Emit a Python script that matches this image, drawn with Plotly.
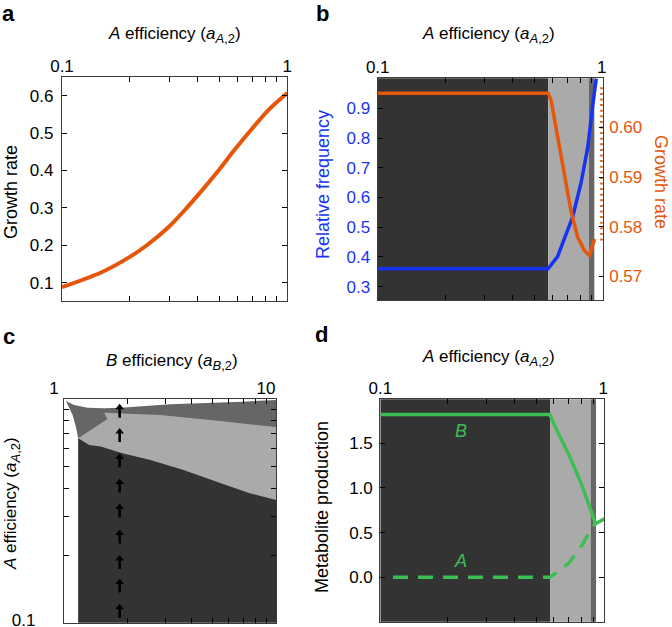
import numpy as np
import plotly.graph_objects as go

W, H = 672, 627
FONT = "Liberation Sans, Arial, sans-serif"

# ---------------- data ----------------
# panel a : growth rate vs A efficiency
a_eff = [0.1, 0.15, 0.2, 0.238, 0.3, 0.358, 0.42, 0.495, 0.58, 0.672, 0.82, 1.0]
a_growth = [0.088, 0.128, 0.169, 0.2, 0.251, 0.3, 0.348, 0.4, 0.453, 0.5, 0.56, 0.607]

# panel b : relative frequency (left axis) and growth rate (right axis)
b_freq_x = [0.1, 0.576, 0.635, 0.679, 0.742, 0.808, 0.867, 0.910, 0.945]
b_freq_y = [0.36, 0.36, 0.401, 0.457, 0.535, 0.648, 0.771, 0.905, 1.0]
b_gr_x = [0.1, 0.576, 0.594, 0.635, 0.679, 0.728, 0.780, 0.836, 0.880, 0.93]
b_gr_y = [0.6069, 0.6069, 0.6055, 0.5981, 0.5907, 0.5833, 0.5779, 0.5752, 0.5742, 0.5775]
b_gr_edge_x = [1.0, 1.0]
b_gr_edge_y = [0.5772, 0.6085]

# regimes along A efficiency (panels b and d)
regime_edges = [0.1, 0.577, 0.877, 0.929, 1.01]

# panel c : regime map (B efficiency vs A efficiency)
c_left_edge = 1.167
c_dark_top_x = [1.167, 1.314, 1.49, 1.884, 2.556, 3.661, 5.248, 7.515, 10]
c_dark_top_y = [0.669, 0.624, 0.614, 0.573, 0.535, 0.483, 0.428, 0.380, 0.354]
c_light_top_x = [1.167, 1.602, 1.545, 2.85, 5.44, 10]
c_light_top_y = [0.669, 0.816, 0.87, 0.85, 0.80, 0.751]
c_mid_left_x = [1.167, 1.138, 1.098, 1.022]
c_mid_left_y = [0.669, 0.754, 0.851, 0.983]
c_mid_top_x = [1.022, 1.117, 1.291, 1.545, 1.849, 2.377, 3.171, 6.97, 10]
c_mid_top_y = [0.983, 0.943, 0.917, 0.911, 0.917, 0.933, 0.950, 0.976, 0.993]
c_arrow_x = 1.83
c_arrow_heads = [0.95, 0.74, 0.57, 0.44, 0.34, 0.26, 0.20, 0.157, 0.121]

# panel d : metabolite production
d_B_x = [0.1, 0.576, 0.611, 0.701, 0.805, 0.861, 0.923, 1.01]
d_B_y = [1.822, 1.822, 1.673, 1.373, 1.018, 0.813, 0.600, 0.655]
d_A_x = [0.114, 0.576, 0.611, 0.701, 0.805, 0.861, 0.923]
d_A_y = [0.0, 0.0, 0.047, 0.159, 0.364, 0.496, 0.608]

# tick labels
a_ticks = [0.1, 0.2, 0.3, 0.4, 0.5, 0.6, 0.7, 0.8, 0.9, 1.0]
a_ticktext = ["0.1", "", "", "", "", "", "", "", "", "1"]
b_ticks = [1, 2, 3, 4, 5, 6, 7, 8, 9, 10]
b_ticktext = ["1", "", "", "", "", "", "", "", "", "10"]
growth_ticks = [0.1, 0.2, 0.3, 0.4, 0.5, 0.6]
freq_ticks = [0.3, 0.4, 0.5, 0.6, 0.7, 0.8, 0.9]
gr_ticks = [0.57, 0.58, 0.59, 0.60]
gr_ticktext = ["0.57", "0.58", "0.59", "0.60"]
met_ticks = [0.0, 0.5, 1.0, 1.5]
met_ticktext = ["0.0", "0.5", "1.0", "1.5"]

# ---------------- style ----------------
ORANGE = "#E5560B"
BLUE = "#1733F2"
GREEN = "#3DBE55"
DARK = "#333333"
LIGHT = "#AAAAAA"
MID = "#666666"
REGIME_COLORS = [DARK, LIGHT, MID, "white"]
AXC = "#3c3c3c"
TICK_SIZE = 17
C_PX_PER_DECADE = 223.4  # panel c vertical scale, used for arrow geometry


def px_x(x):
    return x / W


def px_y(y):
    return 1 - y / H


def axis(**kw):
    base = dict(showgrid=False, zeroline=False, showline=True, linecolor=AXC, linewidth=1.2,
                ticks="inside", ticklen=5, tickwidth=1, tickcolor="black", automargin=False,
                ticklabeloverflow="allow",
                tickfont=dict(family=FONT, size=TICK_SIZE, color="black"), mirror="ticks")
    base.update(kw)
    return base


fig = go.Figure()

# regime shading in panels b and d (filled rectangles through the axes)
for xa, ya, ylo, yhi in (("x2", "y2", 0.0, 2.0), ("x4", "y5", -2.0, 4.0)):
    for i in range(len(regime_edges) - 1):
        x0, x1 = regime_edges[i], regime_edges[i + 1]
        fig.add_trace(go.Scatter(x=[x0, x1, x1, x0, x0], y=[ylo, ylo, yhi, yhi, ylo],
                                 fill="toself", fillcolor=REGIME_COLORS[i], mode="lines",
                                 line=dict(width=0, color=REGIME_COLORS[i]),
                                 xaxis=xa, yaxis=ya, showlegend=False, hoverinfo="skip"))

# panel a
fig.add_trace(go.Scatter(x=a_eff, y=a_growth, mode="lines",
                         line=dict(color=ORANGE, width=4, shape="spline", smoothing=0.8),
                         xaxis="x", yaxis="y", showlegend=False))

# panel b
fig.add_trace(go.Scatter(x=b_freq_x, y=b_freq_y, mode="lines", line=dict(color=BLUE, width=3.5),
                         xaxis="x2", yaxis="y2", showlegend=False))
fig.add_trace(go.Scatter(x=b_gr_x, y=b_gr_y, mode="lines", line=dict(color=ORANGE, width=3.5),
                         xaxis="x2", yaxis="y3", showlegend=False))
fig.add_trace(go.Scatter(x=b_gr_edge_x, y=b_gr_edge_y, mode="lines",
                         line=dict(color=ORANGE, width=3, dash="2px,3.6px"),
                         xaxis="x2", yaxis="y3", showlegend=False))

# panel c polygons (mid, then light, then dark on top)
mid_x = c_mid_top_x + [10, c_left_edge] + c_mid_left_x
mid_y = c_mid_top_y + [0.1, 0.1] + c_mid_left_y
fig.add_trace(go.Scatter(x=mid_x, y=mid_y, fill="toself", fillcolor=MID, mode="lines",
                         line=dict(width=0, color=MID), xaxis="x3", yaxis="y4", showlegend=False))
light_x = c_light_top_x + [10, c_left_edge]
light_y = c_light_top_y + [0.1, 0.1]
fig.add_trace(go.Scatter(x=light_x, y=light_y, fill="toself", fillcolor=LIGHT, mode="lines",
                         line=dict(width=0, color=LIGHT), xaxis="x3", yaxis="y4", showlegend=False))
dark_x = c_dark_top_x + [10, c_left_edge]
dark_y = c_dark_top_y + [0.1, 0.1]
fig.add_trace(go.Scatter(x=dark_x, y=dark_y, fill="toself", fillcolor=DARK, mode="lines",
                         line=dict(width=0, color=DARK), xaxis="x3", yaxis="y4", showlegend=False))

# panel c arrows: shafts + heads
shaft_x, shaft_y, head_x, head_y = [], [], [], []
for yh in c_arrow_heads:
    tail = yh * 10 ** (-13.5 / C_PX_PER_DECADE)
    top = yh * 10 ** (-4 / C_PX_PER_DECADE)
    shaft_x += [c_arrow_x, c_arrow_x, None]
    shaft_y += [tail, top, None]
    head_x.append(c_arrow_x)
    head_y.append(yh * 10 ** (-3.2 / C_PX_PER_DECADE))
fig.add_trace(go.Scatter(x=shaft_x, y=shaft_y, mode="lines", line=dict(color="black", width=2.6),
                         xaxis="x3", yaxis="y4", showlegend=False, connectgaps=False))
fig.add_trace(go.Scatter(x=head_x, y=head_y, mode="markers",
                         marker=dict(symbol="triangle-up", size=7.5, color="black", line=dict(width=0)),
                         xaxis="x3", yaxis="y4", showlegend=False))

# panel d
fig.add_trace(go.Scatter(x=d_B_x, y=d_B_y, mode="lines", line=dict(color=GREEN, width=3.5),
                         xaxis="x4", yaxis="y5", showlegend=False))
fig.add_trace(go.Scatter(x=d_A_x, y=d_A_y, mode="lines", line=dict(color=GREEN, width=3.5, dash="15px,10px"),
                         xaxis="x4", yaxis="y5", showlegend=False))

# annotations
SUB = '<sub><span style="font-size:13px">{}</span></sub>'
title_A = "<i>A</i> efficiency (<i>a</i>" + SUB.format("<i>A</i>,2") + ")"
title_B = "<i>B</i> efficiency (<i>a</i>" + SUB.format("<i>B</i>,2") + ")"


def ann(text, x, y, size=17, color="black", angle=0, **kw):
    d = dict(text=text, x=px_x(x), y=px_y(y), xref="paper", yref="paper", showarrow=False,
             font=dict(family=FONT, size=size, color=color), textangle=angle,
             xanchor="center", yanchor="middle")
    d.update(kw)
    return d


anns = [
    ann("<b>a</b>", 8, 14, size=22),
    ann("<b>b</b>", 322, 14, size=22),
    ann("<b>c</b>", 9, 336, size=22),
    ann("<b>d</b>", 321, 334, size=22),
    ann(title_A, 174, 35),
    ann(title_A, 488, 35),
    ann(title_B, 172, 362),
    ann(title_A, 488, 358),
    ann("Growth rate", 11, 192, size=18, angle=-90),
    ann("Relative frequency", 323, 185, size=18, color=BLUE, angle=-90),
    ann("Growth rate", 661, 182, size=18, color=ORANGE, angle=90),
    ann(title_A, 12, 504, angle=-90),
    ann("Metabolite production", 322, 507, size=18, angle=-90),
    dict(text="<i>B</i>", x=np.log10(0.23), y=1.635, xref="x4", yref="y5", showarrow=False,
         font=dict(family=FONT, size=18, color=GREEN)),
    dict(text="<i>A</i>", x=np.log10(0.23), y=0.185, xref="x4", yref="y5", showarrow=False,
         font=dict(family=FONT, size=18, color=GREEN)),
]

fig.update_layout(
    width=W, height=H, margin=dict(l=0, r=0, t=0, b=0, autoexpand=False),
    paper_bgcolor="white", plot_bgcolor="white", showlegend=False,
    font=dict(family=FONT, color="black"),
    annotations=anns,
    xaxis=axis(domain=[px_x(62), px_x(287.3)], anchor="y", side="top", type="log",
               range=[-1, 0], tickvals=a_ticks, ticktext=a_ticktext, ticklabelstandoff=-3),
    yaxis=axis(domain=[px_y(301), px_y(77.3)], anchor="x", range=[0.051, 0.649],
               tickvals=growth_ticks, ticktext=[f"{v:.1f}" for v in growth_ticks], ticklabelstandoff=4),
    xaxis2=axis(domain=[px_x(377.7), px_x(602.7)], anchor="y2", side="top", type="log",
                range=[-1, np.log10(1.01)], tickvals=a_ticks, ticktext=a_ticktext, ticklabelstandoff=-3),
    yaxis2=axis(domain=[px_y(300), px_y(78.3)], anchor="x2", range=[0.255, 1.001], mirror=False,
                tickvals=freq_ticks, ticktext=[f"{v:.1f}" for v in freq_ticks], ticklabelstandoff=3,
                tickfont=dict(family=FONT, size=TICK_SIZE, color=BLUE)),
    yaxis3=axis(domain=[px_y(300), px_y(78.3)], anchor="x2", overlaying="y2", side="right",
                range=[0.5652, 0.6099], mirror=False, ticklen=4, ticklabelstandoff=2,
                tickvals=gr_ticks, ticktext=gr_ticktext,
                tickfont=dict(family=FONT, size=TICK_SIZE, color=ORANGE)),
    xaxis3=axis(domain=[px_x(64), px_x(276)], anchor="y4", side="top", type="log",
                range=[0, 1], tickvals=b_ticks, ticktext=b_ticktext, ticklabelshift=-10,
                ticklabelstandoff=-3),
    yaxis4=axis(domain=[px_y(622.7), px_y(399.3)], anchor="x3", type="log", range=[-1, 0],
                tickvals=a_ticks, ticktext=["0.1"] + [""] * 9, ticklabelstandoff=24,
                ticklabelshift=-3),
    xaxis4=axis(domain=[px_x(380.3), px_x(604.3)], anchor="y5", side="top", type="log",
                range=[-1, np.log10(1.01)], tickvals=a_ticks, ticktext=a_ticktext, ticklabelstandoff=-3),
    yaxis5=axis(domain=[px_y(621.7), px_y(399.3)], anchor="x4", range=[-0.497, 1.992],
                tickvals=met_ticks, ticktext=met_ticktext, ticklabelstandoff=3),
)

fig.write_html("out.html", config={"displayModeBar": False},
               post_script="document.body.style.margin='0px';document.body.style.padding='0px';"
                           "document.body.style.overflow='hidden';")
